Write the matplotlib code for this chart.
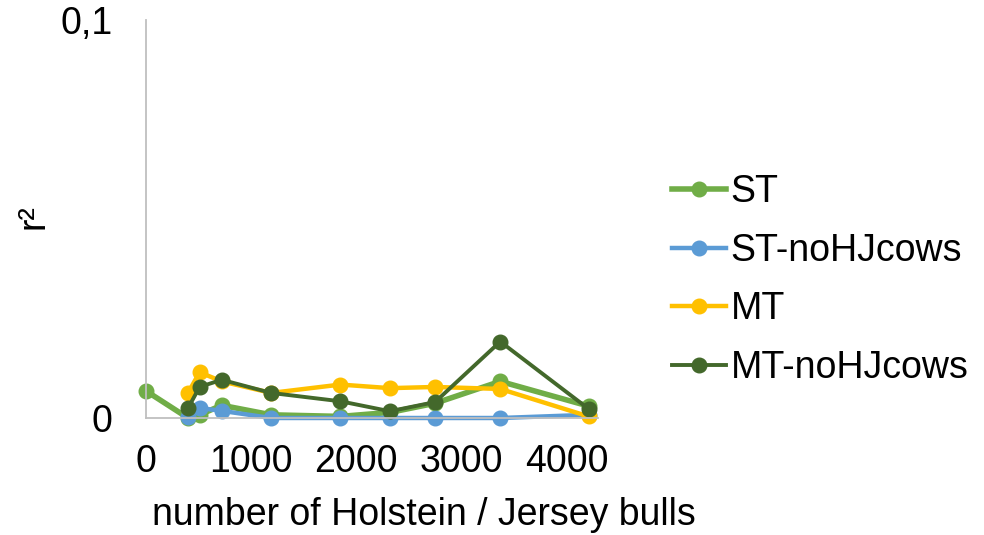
import matplotlib
matplotlib.use('Agg')
import matplotlib.pyplot as plt

plt.rcParams['font.family'] = ['Liberation Sans', 'DejaVu Sans']

# number of Holstein / Jersey bulls
bulls_st = [0, 400, 510, 720, 1190, 1850, 2320, 2750, 3370, 4210]
bulls = [400, 510, 720, 1190, 1850, 2320, 2750, 3370, 4210]

st = [0.0068, 0.0, 0.0008, 0.0032, 0.0008, 0.0004, 0.0014, 0.0037, 0.0092, 0.0030]
st_nohj = [0.0003, 0.0025, 0.0018, 0.0, 0.0, 0.0, 0.0, 0.0, 0.0008]
mt = [0.0063, 0.0115, 0.0092, 0.0063, 0.0084, 0.0075, 0.0078, 0.0073, 0.0004]
mt_nohj = [0.0025, 0.0078, 0.0096, 0.0063, 0.0042, 0.0017, 0.0040, 0.0192, 0.0023]

fig = plt.figure(figsize=(9.84, 5.35), dpi=100)
ax = fig.add_axes([146/984, 1 - 418/535, 452/984, 398/535])

ax.plot(bulls_st, st, color='#70AD47', lw=4, marker='o', ms=10.5, label='ST', clip_on=False)
ax.plot(bulls, st_nohj, color='#5B9BD5', lw=3.2, marker='o', ms=10.5, label='ST-noHJcows', clip_on=False)
ax.plot(bulls, mt, color='#FFC000', lw=3.2, marker='o', ms=10.5, label='MT', clip_on=False)
ax.plot(bulls, mt_nohj, color='#43682B', lw=2.8, marker='o', ms=10.5, label='MT-noHJcows', clip_on=False)

ax.set_xlim(0, 4300)
ax.set_ylim(0, 0.1)
ax.set_xticks([0, 1000, 2000, 3000, 4000])
ax.set_yticks([0, 0.1])
ax.set_yticklabels(['0', '0,1'])
ax.tick_params(length=0, labelsize=27, pad=19)
ax.tick_params(axis='y', pad=24)

for s in ['top', 'right']:
    ax.spines[s].set_visible(False)
for s in ['left', 'bottom']:
    ax.spines[s].set_color('#BFBFBF')
    ax.spines[s].set_linewidth(1.3)

fig.text(424/984, 1 - 515/535, 'number of Holstein / Jersey bulls', ha='center', va='center', fontsize=27)
fig.text(34/984, 1 - 217/535, 'r²', ha='center', va='center', rotation=90, fontsize=27)

fig.legend(loc='center left', bbox_to_anchor=(653/984, 1 - 280/535), frameon=False,
           fontsize=27, handlelength=1.45, handletextpad=0.12, labelspacing=0.6, borderpad=0)

fig.savefig('out.png', dpi=100)
